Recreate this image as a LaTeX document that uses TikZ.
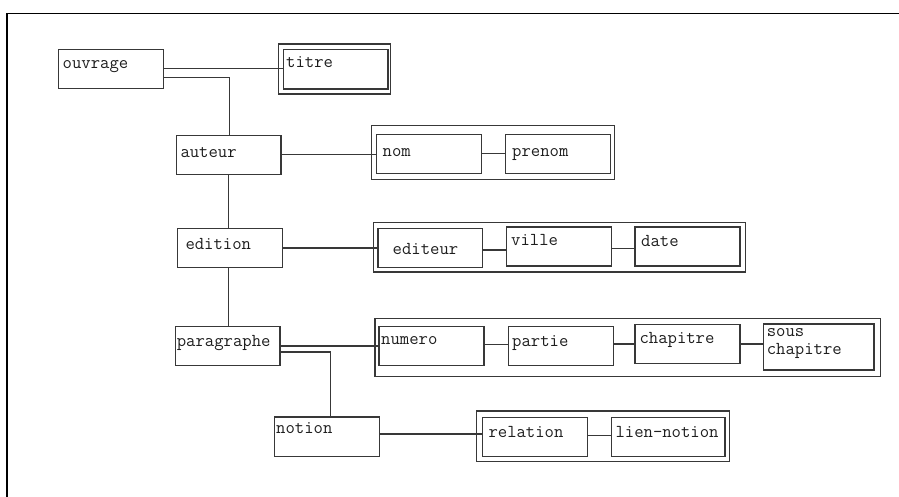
\documentclass[tikz,border=0pt]{standalone}
\usepackage{fontspec}
\usetikzlibrary{fit,calc}
\definecolor{ln}{HTML}{383838}
\definecolor{tx}{HTML}{1E1E1E}
\tikzset{
  box/.style={draw=ln, line width=1.5pt, rectangle, inner sep=0pt, outer sep=0pt},
  grp/.style={draw=ln, line width=1.5pt, rectangle, inner sep=0pt, outer sep=0pt},
  txt/.style={text=tx, font=\ttfamily\fontsize{18.2}{19}\selectfont, inner sep=0pt, anchor=mid west},
  conn/.style={draw=ln, line width=1.4pt},
  frame/.style={draw=black, line width=1.5pt}
}
\begin{document}
\begin{tikzpicture}[x=1pt,y=-1pt]
\useasboundingbox (0,0) rectangle (899,497);
% outer frame
\draw[frame] (7,497) -- (7,13.3) -- (899,13.3);
% boxes
\node[box, fit={(58.7,49.3) (163.3,88.3)}] (ouvrage) {};
\node[grp, fit={(278.7,44) (390.7,94)}] (titreG) {};
\node[box, fit={(283.3,49.3) (388,89)}] (titre) {};
\node[box, fit={(176.3,135.3) (281,174.3)}] (auteur) {};
\node[grp, fit={(371.5,125.7) (614.7,179.3)}] (nomG) {};
\node[box, fit={(376.7,134.3) (481.7,173.3)}] (nom) {};
\node[box, fit={(505.7,134.3) (610.3,173.3)}] (prenom) {};
\node[box, fit={(177.3,228.3) (282.3,267.3)}] (edition) {};
\node[grp, fit={(373.3,222.7) (745.7,272)}] (editionG) {};
\node[box, fit={(378,228.3) (482.7,267.3)}] (editeur) {};
\node[box, fit={(506.3,227) (611.3,266)}] (ville) {};
\node[box, fit={(635,227) (740,266)}] (date) {};
\node[box, fit={(175.3,326.3) (280,365.7)}] (paragraphe) {};
\node[grp, fit={(375,318.3) (880.7,376.7)}] (numG) {};
\node[box, fit={(379,326.7) (484,365.7)}] (numero) {};
\node[box, fit={(508.3,326.7) (613.3,365.7)}] (partie) {};
\node[box, fit={(635,324.3) (740,363.3)}] (chapitre) {};
\node[box, fit={(763.3,324) (874,370)}] (sous) {};
\node[box, fit={(274.3,417) (379.3,456.3)}] (notion) {};
\node[grp, fit={(476.7,411) (729.3,461.7)}] (relG) {};
\node[box, fit={(482.3,417.3) (587.3,456.7)}] (relation) {};
\node[box, fit={(611.7,417.3) (725,456.7)}] (lien) {};
% texts
\node[txt] (t-ouvrage) at (62.5,66.7) {ouvrage};
\node[txt] (t-titre) at (286,65.7) {titre};
\node[txt] (t-auteur) at (180.3,155) {auteur};
\node[txt] (t-nom) at (382.5,154.3) {nom};
\node[txt] (t-prenom) at (512,154.3) {prenom};
\node[txt] (t-edition) at (185.3,247.3) {edition};
\node[txt] (t-editeur) at (392.5,252.3) {editeur};
\node[txt] (t-ville) at (511,243.3) {ville};
\node[txt] (t-date) at (641,244.3) {date};
\node[txt] (t-paragraphe) at (176.6,344) {paragraphe};
\node[txt] (t-numero) at (381,342.7) {numero};
\node[txt] (t-partie) at (512,344) {partie};
\node[txt] (t-chapitre) at (639.3,341.7) {chapitre};
\node[txt, anchor=north west, align=left, font=\ttfamily\fontsize{18.2}{17.7}\selectfont] (t-sous) at (766.6,328.3) {sous\\chapitre};
\node[txt] (t-notion) at (276,431.7) {notion};
\node[txt] (t-relation) at (488.3,435.7) {relation};
\node[txt] (t-lien) at (615.3,435) {lien-notion};
% connectors
\draw[conn] (ouvrage.east) -- (ouvrage.east -| titre.west);
\draw[conn] ([yshift=-9pt]ouvrage.east) -| ([xshift=1pt]auteur.north);
\draw[conn] (auteur.east) -- (auteur.east -| nom.west);
\draw[conn] (nom.east) -- (nom.east -| prenom.west);
\draw[conn] (auteur.south) -- (auteur.south |- edition.north);
\draw[conn] (edition.east) -- (edition.east -| editeur.west);
\draw[conn] ([yshift=-2pt]editeur.east) -- ([yshift=-2pt]editeur.east -| ville.west);
\draw[conn] ([yshift=-2pt]ville.east) -- ([yshift=-2pt]ville.east -| date.west);
\draw[conn] ([xshift=1pt]paragraphe.north) -- ([xshift=1pt]paragraphe.north |- edition.south);
\draw[conn] (paragraphe.east) -- (paragraphe.east -| numero.west);
\draw[conn] ([yshift=-6pt]paragraphe.east) -| ([xshift=3.5pt]notion.north);
\draw[conn] ([yshift=2pt]numero.east) -- ([yshift=2pt]numero.east -| partie.west);
\draw[conn] (chapitre.west -| partie.east) -- (chapitre.west);
\draw[conn] (chapitre.east) -- (chapitre.east -| sous.west);
\draw[conn] ([yshift=2.5pt]notion.east) -- ([yshift=2.5pt]notion.east -| relation.west);
\draw[conn] ([yshift=1.5pt]relation.east) -- ([yshift=1.5pt]relation.east -| lien.west);
\end{tikzpicture}
\end{document}
